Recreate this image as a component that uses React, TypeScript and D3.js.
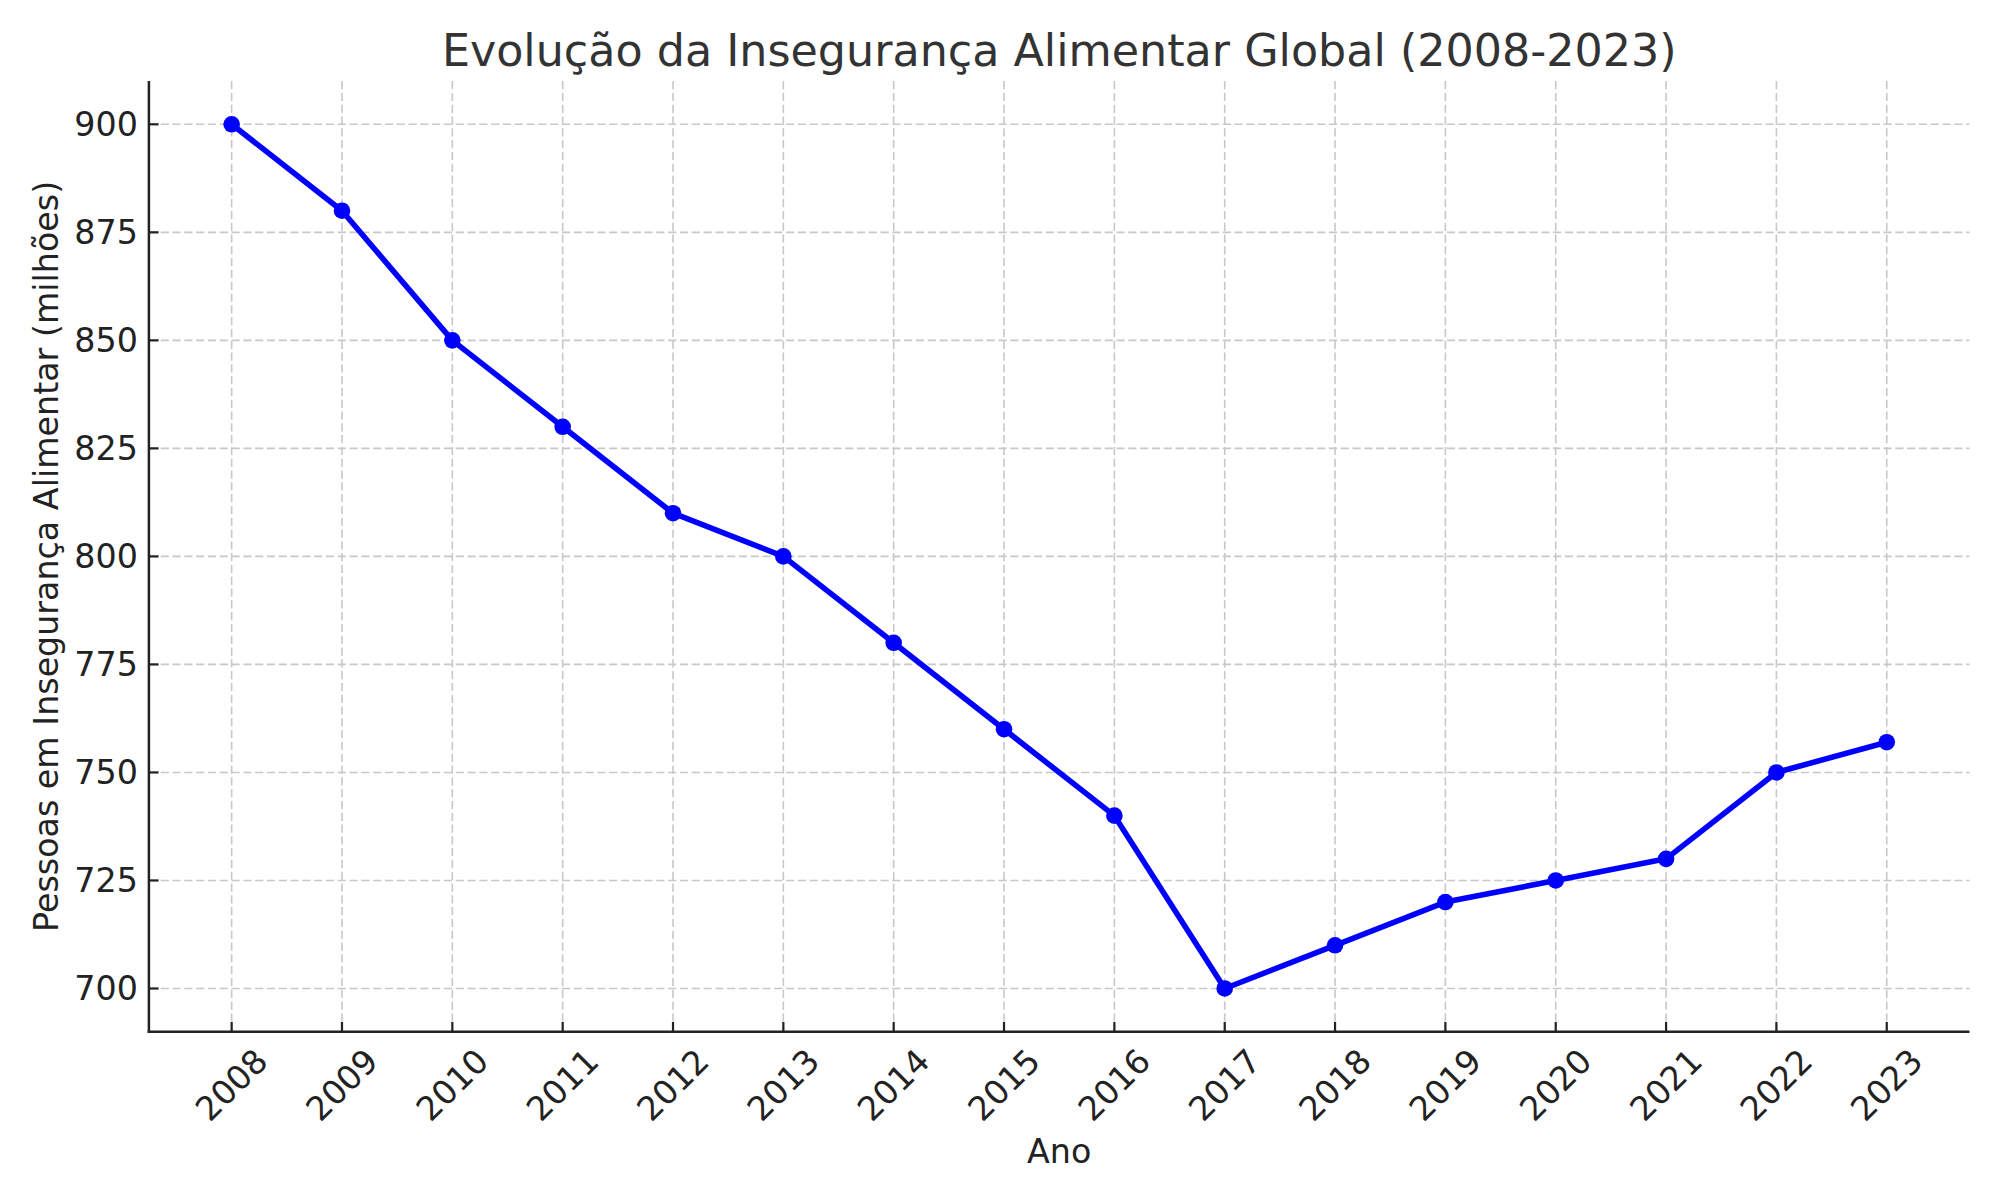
import React from "react";
import * as d3 from "d3";

const years: number[] = [2008, 2009, 2010, 2011, 2012, 2013, 2014, 2015, 2016, 2017, 2018, 2019, 2020, 2021, 2022, 2023];
const values: number[] = [900, 880, 850, 830, 810, 800, 780, 760, 740, 700, 710, 720, 725, 730, 750, 757];
const yTicks: number[] = [700, 725, 750, 775, 800, 825, 850, 875, 900];

const title = "Evolução da Insegurança Alimentar Global (2008-2023)";
const xLabel = "Ano";
const yLabel = "Pessoas em Insegurança Alimentar (milhões)";

const W = 2000;
const H = 1200;
const left = 148.9;
const right = 1969.5;
const top = 81.1;
const bottom = 1031.7;
const FONT = "DejaVu Sans, sans-serif";

export default function App() {
  const x = d3.scaleLinear().domain([2007.25, 2023.75]).range([left, right]);
  const y = d3.scaleLinear().domain([690, 910]).range([bottom, top]);
  const pts = years.map((yr, i) => [yr, values[i]] as [number, number]);
  const line = d3
    .line<[number, number]>()
    .x((d) => x(d[0]))
    .y((d) => y(d[1]));

  const tickFs = 33.3;
  // rotated label geometry (matplotlib-like, ha=center, rotation 45)
  const labW = 4 * 0.636 * tickFs;
  const labH = tickFs * 1.16;
  const rotH = (labW + labH) * Math.SQRT1_2;
  const labCy = bottom + 9.7 + rotH / 2;

  return (
    <svg
      width={W}
      height={H}
      viewBox={`0 0 ${W} ${H}`}
      style={{ position: "absolute", left: 0, top: 0, background: "#fff" }}
      fontFamily={FONT}
    >
      <rect x={0} y={0} width={W} height={H} fill="#fff" />
      {/* grid */}
      <g stroke="#c8c8c8" strokeWidth={1.6} strokeDasharray="8.2 3.6">
        {years.map((yr) => (
          <line key={"gx" + yr} x1={x(yr)} x2={x(yr)} y1={top} y2={bottom} />
        ))}
        {yTicks.map((t) => (
          <line key={"gy" + t} x1={left} x2={right} y1={y(t)} y2={y(t)} />
        ))}
      </g>
      {/* data line */}
      <path d={line(pts) || ""} fill="none" stroke="#0000ff" strokeWidth={5.6} strokeLinejoin="round" strokeLinecap="round" />
      {pts.map((p) => (
        <circle key={"m" + p[0]} cx={x(p[0])} cy={y(p[1])} r={8.3} fill="#0000ff" />
      ))}
      {/* spines */}
      <line x1={left} x2={left} y1={top} y2={bottom + 1.2} stroke="#222" strokeWidth={2.5} />
      <line x1={left - 1.2} x2={right} y1={bottom} y2={bottom} stroke="#222" strokeWidth={2.5} />
      {/* y ticks */}
      {yTicks.map((t) => (
        <g key={"yt" + t}>
          <line x1={left} x2={left + 9.7} y1={y(t)} y2={y(t)} stroke="#222" strokeWidth={2.2} />
          <text
            x={left - 11}
            y={y(t)}
            textAnchor="end"
            dominantBaseline="central"
            fontSize={tickFs}
            fill="#222"
          >
            {t}
          </text>
        </g>
      ))}
      {/* x ticks */}
      {years.map((yr) => (
        <g key={"xt" + yr}>
          <line x1={x(yr)} x2={x(yr)} y1={bottom} y2={bottom - 9.7} stroke="#222" strokeWidth={2.2} />
          <text
            transform={`translate(${x(yr)},${labCy}) rotate(-45)`}
            textAnchor="middle"
            dominantBaseline="central"
            fontSize={tickFs}
            fill="#222"
          >
            {yr}
          </text>
        </g>
      ))}
      {/* axis labels */}
      <text x={(left + right) / 2} y={1163} textAnchor="middle" fontSize={33.3} fill="#222">
        {xLabel}
      </text>
      <text
        transform={`translate(57.5,${(top + bottom) / 2}) rotate(-90)`}
        textAnchor="middle"
        fontSize={33.3}
        fill="#222"
      >
        {yLabel}
      </text>
      {/* title */}
      <text x={(left + right) / 2} y={65.5} textAnchor="middle" fontSize={44.4} fill="#333">
        {title}
      </text>
    </svg>
  );
}
